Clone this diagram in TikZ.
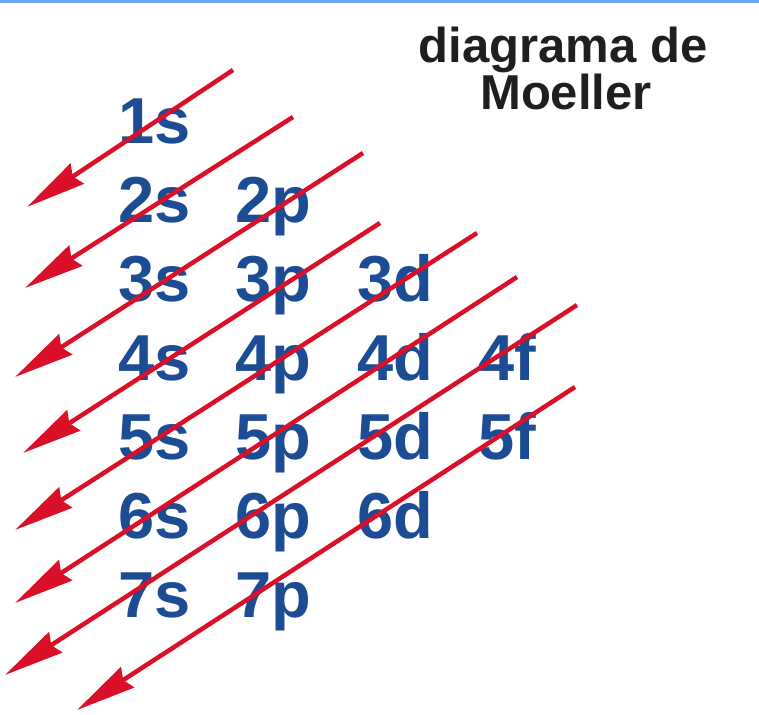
\documentclass[tikz,border=0pt]{standalone}
\usepackage{fontspec}
\setmainfont{Liberation Sans}
\usetikzlibrary{arrows.meta}
\definecolor{orbblue}{RGB}{28,76,148}
\definecolor{arrred}{RGB}{218,16,40}
\definecolor{topblue}{RGB}{110,165,240}
\tikzset{
  orb/.style={anchor=base west, inner sep=0pt, text=orbblue,
    font=\fontsize{65}{65}\selectfont\bfseries},
  title/.style={anchor=base, inner sep=0pt, text=black!88,
    font=\fontsize{49}{49}\selectfont\bfseries},
  arr/.style={draw=arrred, line width=4.5pt,
    -{Stealth[length=60pt, width=24pt, inset=5pt]}}
}
\begin{document}
\begin{tikzpicture}[x=1pt, y=-1pt]
\useasboundingbox (0,0) rectangle (759,714);
\fill[white] (0,0) rectangle (759,714);
\fill[topblue] (0,0) rectangle (759,3);
% title
\node[title] (t1) at (563,63) {diagrama de};
\node[title] (t2) at (566,110) {Moeller};
% orbitals
\node[orb] (o1s) at (118,143) {1s};
\node[orb] (o2s) at (118,222) {2s};
\node[orb] (o2p) at (235,222) {2p};
\node[orb] (o3s) at (118,301) {3s};
\node[orb] (o3p) at (235,301) {3p};
\node[orb] (o3d) at (357,301) {3d};
\node[orb] (o4s) at (118,380) {4s};
\node[orb] (o4p) at (235,380) {4p};
\node[orb] (o4d) at (357,380) {4d};
\node[orb] (o4f) at (478,380) {4f};
\node[orb] (o5s) at (118,459) {5s};
\node[orb] (o5p) at (235,459) {5p};
\node[orb] (o5d) at (357,459) {5d};
\node[orb] (o5f) at (478,459) {5f};
\node[orb] (o6s) at (118,538) {6s};
\node[orb] (o6p) at (235,538) {6p};
\node[orb] (o6d) at (357,538) {6d};
\node[orb] (o7s) at (118,617) {7s};
\node[orb] (o7p) at (235,617) {7p};
% arrow ends
\coordinate (a1t) at (233,70);  \coordinate (a1h) at (27,207);
\coordinate (a2t) at (293,117); \coordinate (a2h) at (25,288);
\coordinate (a3t) at (363,153); \coordinate (a3h) at (15,377);
\coordinate (a4t) at (380,223); \coordinate (a4h) at (23,453);
\coordinate (a5t) at (477,233); \coordinate (a5h) at (15,530);
\coordinate (a6t) at (517,277); \coordinate (a6h) at (15,603);
\coordinate (a7t) at (577,305); \coordinate (a7h) at (5,675);
\coordinate (a8t) at (575,387); \coordinate (a8h) at (77,710);
\foreach \i in {1,...,8} {
  \draw[arr] (a\i t) -- (a\i h);
}
\end{tikzpicture}
\end{document}
